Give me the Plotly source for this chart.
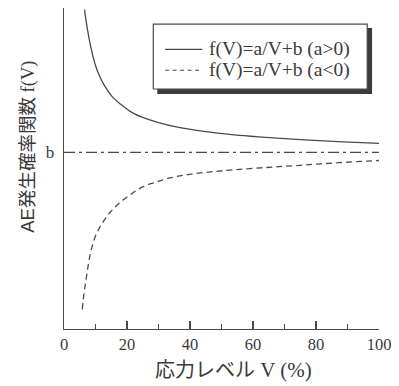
import plotly.graph_objects as go

# ---- data ----
b_level = 5.5
solid_V = [6.5, 7.5, 8.6, 10, 11.2, 13, 15.3, 18, 21.5, 25, 30, 36, 45, 54, 64, 75, 87, 100]
solid_f = [9.95, 9.30, 8.74, 8.21, 7.90, 7.56, 7.24, 7.00, 6.75, 6.59, 6.43, 6.29, 6.15, 6.045, 5.97, 5.90, 5.84, 5.78]
dashed_V = [5.8, 6.4, 7.1, 7.8, 8.6, 10, 12.1, 14.5, 17.4, 21, 24.6, 29, 33, 38.6, 46, 54, 64, 75, 87, 100]
dashed_f = [0.61, 1.15, 1.61, 2.05, 2.45, 2.90, 3.29, 3.62, 3.91, 4.18, 4.41, 4.57, 4.69, 4.80, 4.89, 4.96, 5.03, 5.10, 5.18, 5.25]
b_V = [0, 100]
x_ticks = [0, 20, 40, 60, 80, 100]
y_tick_labels = ["b"]
legend_names = ["f(V)=a/V+b (a>0)", "f(V)=a/V+b (a<0)"]
x_title_jp = "応力レベル"
x_title_unit = " V (%)"
y_title_ae = "AE"
y_title_jp = "発生確率関数"
y_title_fn = " f(V)"

LINE = "#4a4a4a"
TEXT = "#3a3a3a"
SERIF = "Liberation Serif, Times New Roman, serif"
CJK = "Noto Sans CJK JP, sans-serif"

fig = go.Figure()
fig.add_trace(go.Scatter(x=solid_V, y=solid_f, mode="lines", line=dict(color=LINE, width=1.3, shape="spline"),
                         name=legend_names[0], showlegend=False, hoverinfo="skip"))
fig.add_trace(go.Scatter(x=dashed_V, y=dashed_f, mode="lines",
                         line=dict(color=LINE, width=1.3, dash="6px,4px", shape="spline"),
                         name=legend_names[1], showlegend=False, hoverinfo="skip"))
fig.add_trace(go.Scatter(x=b_V, y=[b_level, b_level], mode="lines",
                         line=dict(color=LINE, width=1.3, dash="11px,4px,3px,4px"),
                         showlegend=False, hoverinfo="skip"))

# ---- manual legend (paper coords) ----
shapes = []
shapes.append(dict(type="rect", xref="paper", yref="paper", x0=0.296, x1=0.978, y0=0.732, y1=0.938,
                   fillcolor="#3c3c3c", line=dict(width=0), layer="above"))
shapes.append(dict(type="rect", xref="paper", yref="paper", x0=0.2835, x1=0.9626, y0=0.7477, y1=0.950,
                   fillcolor="white", line=dict(color=LINE, width=1.2), layer="above"))
rows_y = [0.871, 0.806]
dashes = ["solid", "4px,3.5px"]
annotations = []
for name, ry, d in zip(legend_names, rows_y, dashes):
    shapes.append(dict(type="line", xref="paper", yref="paper", x0=0.321, x1=0.439, y0=ry, y1=ry,
                       line=dict(color=LINE, width=1.2, dash=d), layer="above"))
    annotations.append(dict(xref="paper", yref="paper", x=0.455, y=ry, text=name, showarrow=False,
                            xanchor="left", yanchor="middle", font=dict(family=SERIF, size=19.5, color=TEXT)))

annotations.append(dict(xref="paper", yref="paper", x=0.539, y=-0.122,
                        text=x_title_jp + '<span style="font-family:Liberation Serif;font-size:21px">'
                             + x_title_unit + '</span>',
                        showarrow=False, xanchor="center", yanchor="middle",
                        font=dict(family=CJK, size=20, color=TEXT)))
annotations.append(dict(xref="paper", yref="paper", x=-0.1215, y=0.567, textangle=-90,
                        text='<span style="font-family:Liberation Sans">' + y_title_ae + '</span>' + y_title_jp +
                             '<span style="font-family:Liberation Serif">' + y_title_fn + '</span>',
                        showarrow=False, xanchor="center", yanchor="middle",
                        font=dict(family=CJK, size=18.5, color=TEXT)))

fig.update_layout(
    width=399, height=386,
    margin=dict(l=64, r=14, t=8, b=57),
    paper_bgcolor="white", plot_bgcolor="white",
    hovermode=False,
    shapes=shapes, annotations=annotations,
    xaxis=dict(range=[0, 100], tickvals=x_ticks, ticktext=[str(v) for v in x_ticks],
               showgrid=False, zeroline=False, showline=True, linecolor=LINE, linewidth=1.3,
               ticks="inside", ticklen=8, tickwidth=1.2, tickcolor=LINE,
               minor=dict(dtick=10, tick0=0, ticks="inside", ticklen=5, tickwidth=1.2, tickcolor=LINE, showgrid=False),
               tickfont=dict(family=SERIF, size=16.5, color=TEXT)),
    yaxis=dict(range=[0, 10], tickvals=[b_level], ticktext=y_tick_labels,
               showgrid=False, zeroline=False, showline=True, linecolor=LINE, linewidth=1.3,
               ticks="inside", ticklen=4, tickwidth=1.2, tickcolor=LINE, ticklabelstandoff=5,
               tickfont=dict(family=SERIF, size=17, color=TEXT)),
)

# remove the page's default 8px body margin so the 399x386 figure fills the window exactly
fig.write_html("out.html",
               config={"displayModeBar": False, "staticPlot": True},
               post_script="document.body.style.margin='0';document.documentElement.style.overflow='hidden';")
